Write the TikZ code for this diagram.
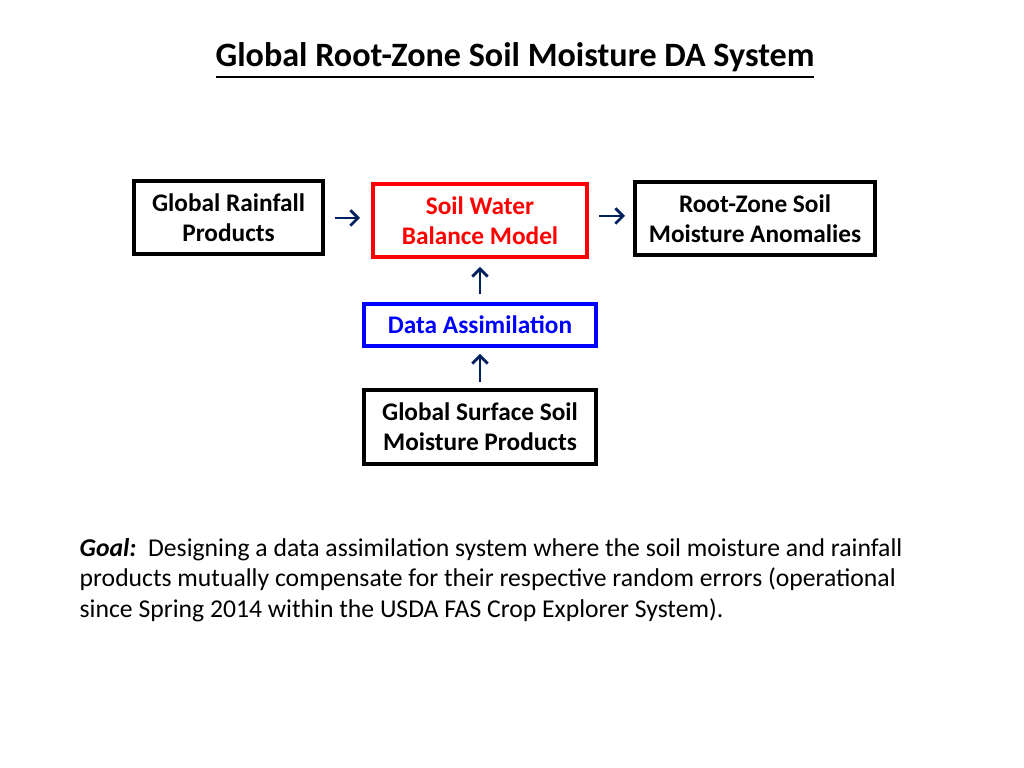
\documentclass[tikz,border=0pt]{standalone}
\usepackage{fontspec}
\setmainfont{Carlito}
\usetikzlibrary{arrows.meta,calc}
\definecolor{navy}{RGB}{0,32,96}
\begin{document}
\begin{tikzpicture}[x=0.01cm,y=-0.01cm,
  box/.style={draw,line width=1.1pt,inner sep=0pt,align=center,font=\fontsize{7.2}{8.6}\selectfont\bfseries},
  arr/.style={navy,line width=0.8pt,-{Straight Barb[length=2.2pt,width=4.4pt]}}]
\useasboundingbox (0,0) rectangle (1024,768);
\node[font=\fontsize{9.7}{11}\selectfont\bfseries] (title) at (515,61) {\underline{Global Root-Zone Soil Moisture DA System}};
\node[box,minimum width=1.89cm,minimum height=0.73cm] (rain) at (228.5,217.5) {Global Rainfall\\Products};
\node[box,red,text=red,minimum width=2.14cm,minimum height=0.73cm] (swb) at (480,220.5) {Soil Water\\Balance Model};
\node[box,minimum width=2.40cm,minimum height=0.73cm] (rz) at (755,218.5) {Root-Zone Soil\\Moisture Anomalies};
\node[box,blue,text=blue,minimum width=2.32cm,minimum height=0.42cm] (da) at (480,325) {Data Assimilation};
\node[box,minimum width=2.32cm,minimum height=0.74cm] (ss) at (480,427) {Global Surface Soil\\Moisture Products};
\draw[arr] ($(rain.east|-0,218)+(10,0)$) -- ($(swb.west|-0,218)+(-11,0)$);
\draw[arr] ($(swb.east|-0,216)+(10,0)$) -- ($(rz.west|-0,216)+(-8,0)$);
\draw[arr] ($(da.north)+(0,-8)$) -- ($(swb.south)+(0,8)$);
\draw[arr] ($(ss.north)+(0,-6)$) -- ($(da.south)+(0,6)$);
\node[anchor=north west,align=left,inner sep=0pt,font=\fontsize{7.3}{8.6}\selectfont] (goal) at (79,538)
{\textbf{\textit{Goal:}}\ \ Designing a data assimilation system where the soil moisture and rainfall\\
products mutually compensate for their respective random errors (operational\\
since Spring 2014 within the USDA FAS Crop Explorer System).};
\end{tikzpicture}
\end{document}
